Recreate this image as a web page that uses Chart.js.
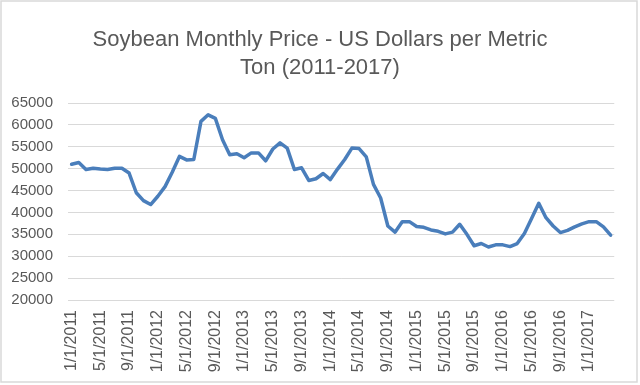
<!DOCTYPE html>
<html>
<head>
<meta charset="utf-8">
<title>Soybean Monthly Price</title>
<script src="https://cdn.jsdelivr.net/npm/chart.js@4/dist/chart.umd.min.js"></script>
<style>
    html, body { margin: 0; padding: 0; background: #ffffff; }
    #chart-wrap { width: 640px; height: 385px; position: relative; }
</style>
</head>
<body>
<div id="chart-wrap"><canvas id="soy-chart" width="640" height="385"></canvas></div>
<script>
// Soybean price, US dollars per metric ton, Jan 2011 - Apr 2017
var prices2011 = [51000, 51400, 49800, 50100, 49900, 49800, 50100, 50100, 49000, 44500, 42700, 41800];
var prices2012 = [43700, 45900, 49200, 52800, 52000, 52100, 60800, 62300, 61500, 56600, 53200, 53400];
var prices2013 = [52500, 53600, 53600, 51800, 54500, 55900, 54700, 49800, 50200, 47300, 47700, 48900];
var prices2014 = [47500, 49900, 52100, 54700, 54600, 52700, 46400, 43300, 36900, 35500, 37900, 37900];
var prices2015 = [36800, 36600, 36000, 35700, 35100, 35500, 37300, 35000, 32400, 32900, 32100, 32600];
var prices2016 = [32600, 32200, 32900, 35200, 38600, 42100, 38800, 36900, 35400, 35900, 36700, 37400];
var prices2017 = [37900, 37900, 36700, 34800];

var firstYear = 2011;
var yTicks = { min: 20000, max: 65000, step: 5000 };
var titleLines = ['Soybean Monthly Price - US Dollars per Metric', 'Ton (2011-2017)'];

(function() {
    'use strict';

    var prices = [].concat(prices2011, prices2012, prices2013, prices2014,
                           prices2015, prices2016, prices2017);

    // Category labels, first of each month (m/1/yyyy)
    var months = prices.map(function(v, i) {
        return (i % 12 + 1) + '/1/' + (firstYear + Math.floor(i / 12));
    });

    var textColor = '#595959';
    var gridColor = '#d9d9d9';
    var fontFamily = '"Liberation Sans", Arial, sans-serif';

    /**
     * Thin grey frame around the whole chart
     */
    var framePlugin = {
        id: 'frame',
        afterDraw: function(chart) {
            var ctx = chart.ctx;
            ctx.save();
            ctx.strokeStyle = gridColor;
            ctx.lineWidth = 1.5;
            ctx.strokeRect(1, 1, chart.width - 4, chart.height - 4);
            ctx.restore();
        }
    };

    new Chart(document.getElementById('soy-chart').getContext('2d'), {
        type: 'line',
        data: {
            labels: months,
            datasets: [{
                label: 'Price',
                data: prices,
                borderColor: '#4a7ebb',
                borderWidth: 3.5,
                borderJoinStyle: 'round',
                borderCapStyle: 'round',
                pointRadius: 0,
                tension: 0,
                fill: false
            }]
        },
        options: {
            responsive: false,
            animation: false,
            layout: {
                padding: 0
            },
            plugins: {
                legend: { display: false },
                tooltip: { enabled: false },
                title: {
                    display: true,
                    text: titleLines,
                    color: textColor,
                    font: { family: fontFamily, size: 22, weight: 'normal', lineHeight: 28 / 22 },
                    padding: { top: 26, bottom: 21 }
                }
            },
            scales: {
                x: {
                    offset: true,
                    grid: { display: false, drawTicks: false },
                    border: { display: false },
                    ticks: {
                        autoSkip: false,
                        maxRotation: 90,
                        minRotation: 90,
                        padding: 10,
                        color: textColor,
                        font: { family: fontFamily, size: 16 },
                        callback: function(value, index) {
                            return index % 4 === 0 ? months[index] : '';
                        }
                    },
                    afterFit: function(scale) {
                        scale.height = 85;
                    }
                },
                y: {
                    min: yTicks.min,
                    max: yTicks.max,
                    grid: { color: gridColor, lineWidth: 1, drawTicks: false },
                    border: { display: false },
                    ticks: {
                        stepSize: yTicks.step,
                        padding: 15,
                        color: textColor,
                        font: { family: fontFamily, size: 15 },
                        callback: function(value) {
                            return String(value);
                        }
                    },
                    afterFit: function(scale) {
                        scale.width = 68;
                    }
                },
                // empty right-hand axis, only reserves the margin right of the plot
                spacer: {
                    type: 'linear',
                    position: 'right',
                    grid: { display: false, drawTicks: false },
                    border: { display: false },
                    ticks: { display: false },
                    afterFit: function(scale) {
                        scale.width = 24;
                    }
                }
            }
        },
        plugins: [framePlugin]
    });
})();
</script>
</body>
</html>
